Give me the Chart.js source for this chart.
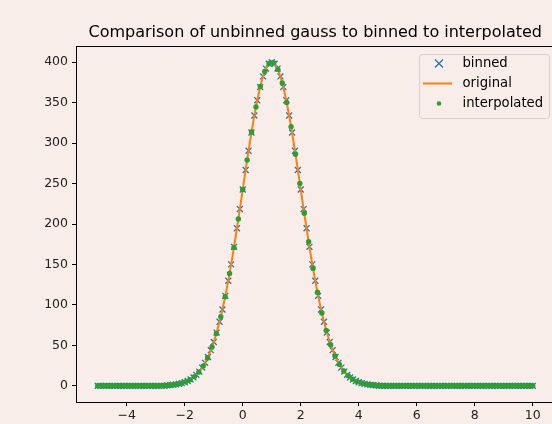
<!DOCTYPE html>
<html>
<head>
<meta charset="utf-8">
<script src="https://cdn.jsdelivr.net/npm/chart.js@4/dist/chart.umd.min.js"></script>
<style>
  html,body{margin:0;padding:0;background:#f8ede8;overflow:hidden;width:552px;height:424px}
  #wrap{position:absolute;left:0;top:0;width:560px;height:424px}
</style>
</head>
<body>
<div id="wrap"><canvas id="c" width="560" height="424"></canvas></div>
<script>
// histogram bin centres and counts
const binnedX = [
  -5.0,-4.9,-4.8,-4.7,-4.6,-4.5,-4.4,-4.3,-4.2,-4.1,-4.0,-3.9,-3.8,-3.7,-3.6,-3.5,-3.4,-3.3,-3.2,-3.1,
  -3.0,-2.9,-2.8,-2.7,-2.6,-2.5,-2.4,-2.3,-2.2,-2.1,-2.0,-1.9,-1.8,-1.7,-1.6,-1.5,-1.4,-1.3,-1.2,-1.1,
  -1.0,-0.9,-0.8,-0.7,-0.6,-0.5,-0.4,-0.3,-0.2,-0.1,0.0,0.1,0.2,0.3,0.4,0.5,0.6,0.7,0.8,0.9,
  1.0,1.1,1.2,1.3,1.4,1.5,1.6,1.7,1.8,1.9,2.0,2.1,2.2,2.3,2.4,2.5,2.6,2.7,2.8,2.9,
  3.0,3.1,3.2,3.3,3.4,3.5,3.6,3.7,3.8,3.9,4.0,4.1,4.2,4.3,4.4,4.5,4.6,4.7,4.8,4.9,
  5.0,5.1,5.2,5.3,5.4,5.5,5.6,5.7,5.8,5.9,6.0,6.1,6.2,6.3,6.4,6.5,6.6,6.7,6.8,6.9,
  7.0,7.1,7.2,7.3,7.4,7.5,7.6,7.7,7.8,7.9,8.0,8.1,8.2,8.3,8.4,8.5,8.6,8.7,8.8,8.9,
  9.0,9.1,9.2,9.3,9.4,9.5,9.6,9.7,9.8,9.9,10.0
];
const binnedY = [
  0,0,0,0,0,0,0,0,0,0,0,0,0,0,0,0,0,0,0,0,
  0,0,0,0,0.6,0.9,1.2,1.7,2.4,3.3,4.4,6.0,7.9,10.4,13.6,17.6,22.5,28.4,35.6,44.1,
  54.1,65.8,79.2,94.3,111.2,129.9,150.1,171.8,194.7,218.4,242.6,266.8,290.5,313.1,334.1,353.0,369.2,382.4,392.1,398.0,
  400.0,398.0,392.1,382.4,369.2,353.0,334.1,313.1,290.5,266.8,242.6,218.4,194.7,171.8,150.1,129.9,111.2,94.3,79.2,65.8,
  54.1,44.1,35.6,28.4,22.5,17.6,13.6,10.4,7.9,6.0,4.4,3.3,2.4,1.7,1.2,0.9,0.6,0,0,0,
  0,0,0,0,0,0,0,0,0,0,0,0,0,0,0,0,0,0,0,0,
  0,0,0,0,0,0,0,0,0,0,0,0,0,0,0,0,0,0,0,0,
  0,0,0,0,0,0,0,0,0,0,0
];
// unbinned curve, sampled on the same grid
const originalX = binnedX;
const originalY = binnedY;
// resampled points
const interpX = [
  -5.000,-4.848,-4.697,-4.545,-4.394,-4.242,-4.091,-3.939,-3.788,-3.636,
  -3.485,-3.333,-3.182,-3.030,-2.879,-2.727,-2.576,-2.424,-2.273,-2.121,
  -1.970,-1.818,-1.667,-1.515,-1.364,-1.212,-1.061,-0.909,-0.758,-0.606,
  -0.455,-0.303,-0.152,0.000,0.152,0.303,0.455,0.606,0.758,0.909,
  1.061,1.212,1.364,1.515,1.667,1.818,1.970,2.121,2.273,2.424,
  2.576,2.727,2.879,3.030,3.182,3.333,3.485,3.636,3.788,3.939,
  4.091,4.242,4.394,4.545,4.697,4.848,5.000,5.152,5.303,5.455,
  5.606,5.758,5.909,6.061,6.212,6.364,6.515,6.667,6.818,6.970,
  7.121,7.273,7.424,7.576,7.727,7.879,8.030,8.182,8.333,8.485,
  8.636,8.788,8.939,9.091,9.242,9.394,9.545,9.697,9.848,10.000
];
const interpY = [
  0,0,0,0,0,0,0,0,0,0,
  0,0,0,0,0,0.4,0.7,1.1,1.9,3.1,
  4.9,7.5,11.4,16.9,24.5,34.6,47.9,64.7,85.4,110.1,
  138.9,171.1,206.1,242.6,279.1,313.7,344.7,370.1,388.4,398.4,
  399.3,391.1,374.4,350.3,320.3,286.2,250.0,213.3,178.0,145.1,
  115.6,90.0,68.5,50.9,37.0,26.3,18.3,12.4,8.2,5.3,
  3.4,2.1,1.3,0.7,0.4,0,0,0,0,0,
  0,0,0,0,0,0,0,0,0,0,
  0,0,0,0,0,0,0,0,0,0,
  0,0,0,0,0,0,0,0,0,0
];
const xTicks = [-4,-2,0,2,4,6,8,10];
const yTicks = [0,50,100,150,200,250,300,350,400];
const titleText = 'Comparison of unbinned gauss to binned to interpolated';

const BG = '#f8ede8';
const FONT = 'DejaVu Sans';
const pts = (xs, ys) => xs.map((x, i) => ({x, y: ys[i]}));

const decor = {
  id: 'decor',
  beforeDraw(chart) {
    const {ctx} = chart;
    ctx.save();
    ctx.fillStyle = BG;
    ctx.fillRect(0, 0, chart.width, chart.height);
    ctx.restore();
  },
  afterDraw(chart) {
    const {ctx, chartArea: a} = chart;
    ctx.save();
    // axes frame
    ctx.strokeStyle = '#000';
    ctx.lineWidth = 1;
    ctx.strokeRect(Math.round(a.left) + 0.5, Math.round(a.top) + 0.5,
      Math.round(a.right - a.left), Math.round(a.bottom - a.top));
    // title
    ctx.fillStyle = '#000';
    ctx.font = '16px "' + FONT + '"';
    ctx.textAlign = 'center';
    ctx.textBaseline = 'alphabetic';
    ctx.fillText(titleText, (a.left + a.right) / 2, 37);
    // legend
    const lx = 419, ly = 54, lw = 130, lh = 64;
    ctx.beginPath();
    ctx.roundRect(lx + 0.5, ly + 0.5, lw, lh, 3);
    ctx.fillStyle = BG;
    ctx.fill();
    ctx.strokeStyle = '#d4d0ce';
    ctx.stroke();
    ctx.font = '13.2px "' + FONT + '"';
    ctx.textAlign = 'left';
    ctx.textBaseline = 'middle';
    const ds = chart.data.datasets;
    const rows = [ds[2], ds[1], ds[0]];
    rows.forEach((d, i) => {
      const y = ly + 9.5 + i * 20;
      const mx = 439;
      if (d.legendKind === 'cross') {
        ctx.strokeStyle = d.borderColor; ctx.lineWidth = 1.3;
        ctx.beginPath();
        ctx.moveTo(mx - 4, y - 4); ctx.lineTo(mx + 4, y + 4);
        ctx.moveTo(mx - 4, y + 4); ctx.lineTo(mx + 4, y - 4);
        ctx.stroke();
      } else if (d.legendKind === 'line') {
        ctx.strokeStyle = d.borderColor; ctx.lineWidth = 2;
        ctx.beginPath(); ctx.moveTo(423, y); ctx.lineTo(452, y); ctx.stroke();
      } else {
        ctx.fillStyle = d.backgroundColor;
        ctx.beginPath(); ctx.arc(mx, y, 2.3, 0, Math.PI * 2); ctx.fill();
      }
      ctx.fillStyle = '#000';
      ctx.fillText(d.label, 462.5, y);
    });
    ctx.restore();
  }
};

new Chart(document.getElementById('c'), {
  type: 'scatter',
  data: {
    datasets: [
      {label: 'interpolated', legendKind: 'dot', data: pts(interpX, interpY), order: 0,
       pointStyle: 'circle', pointRadius: 2.7, pointBorderWidth: 0,
       backgroundColor: '#2ca02c', borderColor: '#2ca02c'},
      {label: 'original', legendKind: 'line', data: pts(originalX, originalY), order: 1,
       showLine: true, pointRadius: 0, borderColor: '#ff7f0e', borderWidth: 2, tension: 0},
      {label: 'binned', legendKind: 'cross', data: pts(binnedX, binnedY), order: 2,
       pointStyle: 'crossRot', pointRadius: 4.2, pointBorderWidth: 1.3,
       borderColor: '#1f77b4', backgroundColor: '#1f77b4'}
    ]
  },
  options: {
    responsive: false,
    animation: false,
    events: [],
    layout: {padding: {left: 0, right: 4, top: 46, bottom: 0}},
    plugins: {legend: {display: false}, title: {display: false}, tooltip: {enabled: false}},
    scales: {
      x: {
        type: 'linear', min: -5.75, max: 10.75,
        afterFit: s => { s.height = 22; },
        afterBuildTicks: s => { s.ticks = xTicks.map(v => ({value: v})); },
        border: {display: false},
        grid: {drawOnChartArea: false, drawTicks: true, tickLength: 4, color: '#000'},
        ticks: {padding: 2, color: '#222', font: {family: FONT, size: 12.5},
          maxRotation: 0, autoSkip: false,
          callback: v => String(v).replace('-', '\u2212')}
      },
      y: {
        type: 'linear', min: -20, max: 420,
        afterFit: s => { s.width = 76; },
        afterBuildTicks: s => { s.ticks = yTicks.map(v => ({value: v})); },
        border: {display: false},
        grid: {drawOnChartArea: false, drawTicks: true, tickLength: 4, color: '#000'},
        ticks: {padding: 4, color: '#222', font: {family: FONT, size: 12.5}, autoSkip: false}
      }
    }
  },
  plugins: [decor]
});
</script>
</body>
</html>
